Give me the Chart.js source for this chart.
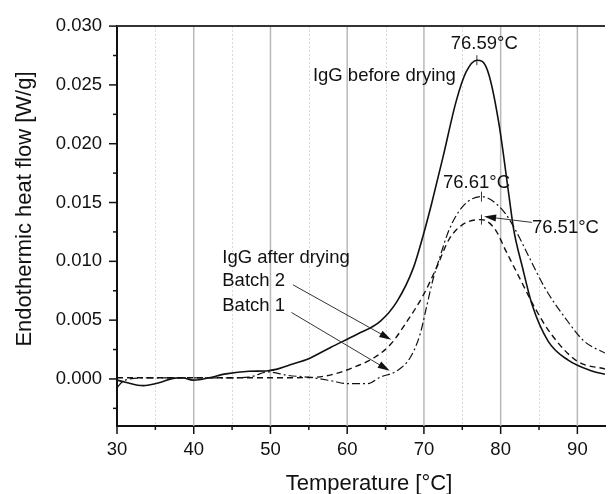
<!DOCTYPE html>
<html>
<head>
  <title>DSC thermogram IgG</title>
  <script src="https://cdn.jsdelivr.net/npm/chart.js@4.4.0/dist/chart.umd.min.js"></script>
  <style>
    body { margin: 0; background: #fff; }
    #wrap { width: 611px; height: 494px; }
  </style>
</head>
<body>
  <div id="wrap"><canvas id="dsc"></canvas></div>
  <script>
    // heat flow [W/g] against temperature [°C]
    var tBefore = [30, 31.1, 33.4, 35.6, 37.3, 38.5, 39.9, 40.7, 42.0, 44.2, 47.2, 49.7, 51.2, 52.8, 54.9, 57.9, 61.3, 64.3, 66.5, 68.6, 69.9, 71.0, 72.5, 74.2, 75.5, 76.9, 77.6, 78.5, 79.8, 81.1, 81.7, 82.8, 84.1, 86.2, 88.8, 91.8, 93.6];
    var vBefore = [-0.0001, -0.00028, -0.00057, -0.0003, 0.00005, 0.0001, -0.0001, -0.00007, 0.0001, 0.00043, 0.00065, 0.0007, 0.0009, 0.00125, 0.0017, 0.0027, 0.0038, 0.0049, 0.0066, 0.0094, 0.0122, 0.0149, 0.0189, 0.0236, 0.0261, 0.0271, 0.0270, 0.0258, 0.0216, 0.0155, 0.0127, 0.0096, 0.0063, 0.0032, 0.0016, 0.0007, 0.0004];

    var tBatch2 = [30, 40, 50, 55, 57.9, 60.9, 63.5, 65.6, 67.8, 69.9, 71.6, 73.3, 75.0, 77.5, 79.3, 80.6, 82.3, 84.5, 86.6, 90.0, 93.6];
    var vBatch2 = [0.0001, 0.0001, 0.0001, 0.00012, 0.00035, 0.001, 0.0018, 0.0029, 0.0049, 0.0071, 0.0094, 0.0119, 0.0131, 0.01355, 0.0127, 0.011, 0.0088, 0.006, 0.0038, 0.0015, 0.00085];

    var tBatch1 = [30, 30.6, 31.7, 35, 40, 45, 47.2, 49.7, 52.3, 54.9, 57.9, 60.0, 62.6, 64.3, 66.5, 68.2, 69.5, 70.3, 71.2, 72.0, 73.3, 75.1, 77.5, 80.2, 81.9, 83.6, 85.8, 88.4, 90.9, 93.6];
    var vBatch1 = [-0.00075, -0.0003, 0.0, 0.0001, 0.0001, 0.0001, 0.00015, 0.0006, 0.0003, 0.00015, -0.00015, -0.0004, -0.0004, 0.00015, 0.0007, 0.0018, 0.0038, 0.006, 0.0085, 0.0102, 0.0127, 0.0147, 0.0155, 0.0144, 0.0127, 0.0105, 0.0077, 0.0052, 0.0032, 0.0022];

    // peak markers: before drying, batch 1, batch 2
    var peakT = [76.9, 77.5, 77.5];
    var peakV = [0.0271, 0.0155, 0.01355];

    var xMajor = [30, 40, 50, 60, 70, 80, 90];
    var xMinor = [35, 45, 55, 65, 75, 85];
    var yMajor = [0, 0.005, 0.010, 0.015, 0.020, 0.025, 0.030];
    var yMinor = [-0.0025, 0.0025, 0.0075, 0.0125, 0.0175, 0.0225, 0.0275];

    function pts(ts, vs) {
      return ts.map(function(t, i) { return { x: t, y: vs[i] }; });
    }

    var FONT = '"Liberation Sans", Arial, sans-serif';
    Chart.defaults.font.family = FONT;
    Chart.defaults.color = '#111';

    // text labels and arrows, placed in data units
    var notes = [
      { text: '76.59°C', x: 77.87, y: 0.02805, align: 'center' },
      { text: 'IgG before drying', x: 55.53, y: 0.02531, align: 'left' },
      { text: '76.61°C', x: 72.49, y: 0.01626, align: 'left' },
      { text: '76.51°C', x: 84.07, y: 0.01241, align: 'left' },
      { text: 'IgG after drying', x: 43.72, y: 0.00984, align: 'left' },
      { text: 'Batch 2', x: 43.72, y: 0.00790, align: 'left' },
      { text: 'Batch 1', x: 43.72, y: 0.00580, align: 'left' }
    ];
    var arrows = [
      { x1: 52.94, y1: 0.00800, x2: 65.74, y2: 0.00334 },
      { x1: 52.74, y1: 0.00565, x2: 65.54, y2: 0.00069 },
      { x1: 84.07, y1: 0.01331, x2: 77.84, y2: 0.01381 }
    ];

    function drawArrow(ctx, x1, y1, x2, y2) {
      var a = Math.atan2(y2 - y1, x2 - x1);
      var len = 12, hw = 3.6;
      ctx.beginPath();
      ctx.moveTo(x1, y1);
      ctx.lineTo(x2 - Math.cos(a) * len * 0.8, y2 - Math.sin(a) * len * 0.8);
      ctx.stroke();
      ctx.beginPath();
      ctx.moveTo(x2, y2);
      ctx.lineTo(x2 - Math.cos(a) * len - Math.sin(a) * hw, y2 - Math.sin(a) * len + Math.cos(a) * hw);
      ctx.lineTo(x2 - Math.cos(a) * len + Math.sin(a) * hw, y2 - Math.sin(a) * len - Math.cos(a) * hw);
      ctx.closePath();
      ctx.fill();
    }

    var decor = {
      id: 'decor',
      beforeDatasetsDraw: function(chart) {
        var ctx = chart.ctx, a = chart.chartArea;
        var xs = chart.scales.x;
        ctx.save();
        // minor grid, dotted
        ctx.strokeStyle = '#d6d6d6';
        ctx.lineWidth = 1;
        ctx.setLineDash([2, 2]);
        xMinor.forEach(function(t) {
          var px = Math.round(xs.getPixelForValue(t)) + 0.5;
          ctx.beginPath(); ctx.moveTo(px, a.top); ctx.lineTo(px, a.bottom); ctx.stroke();
        });
        // major grid
        ctx.setLineDash([]);
        ctx.strokeStyle = '#b8b8b8';
        ctx.lineWidth = 1.5;
        xMajor.slice(1).forEach(function(t) {
          var px = xs.getPixelForValue(t);
          ctx.beginPath(); ctx.moveTo(px, a.top); ctx.lineTo(px, a.bottom); ctx.stroke();
        });
        ctx.restore();
      },
      afterDraw: function(chart) {
        var ctx = chart.ctx, a = chart.chartArea;
        var xs = chart.scales.x, ys = chart.scales.y;
        ctx.save();
        // top frame
        ctx.strokeStyle = '#333';
        ctx.lineWidth = 2;
        ctx.beginPath(); ctx.moveTo(a.left, a.top); ctx.lineTo(a.right, a.top); ctx.stroke();
        // ticks
        ctx.strokeStyle = '#111';
        ctx.lineWidth = 1.5;
        yMajor.forEach(function(v) {
          var py = ys.getPixelForValue(v);
          ctx.beginPath(); ctx.moveTo(a.left - 8, py); ctx.lineTo(a.left, py); ctx.stroke();
        });
        yMinor.forEach(function(v) {
          var py = ys.getPixelForValue(v);
          ctx.beginPath(); ctx.moveTo(a.left - 4, py); ctx.lineTo(a.left, py); ctx.stroke();
        });
        xMajor.forEach(function(t) {
          var px = xs.getPixelForValue(t);
          ctx.beginPath(); ctx.moveTo(px, a.bottom); ctx.lineTo(px, a.bottom + 8); ctx.stroke();
        });
        xMinor.forEach(function(t) {
          var px = xs.getPixelForValue(t);
          ctx.beginPath(); ctx.moveTo(px, a.bottom); ctx.lineTo(px, a.bottom + 4); ctx.stroke();
        });
        // axis titles
        ctx.fillStyle = '#111';
        ctx.font = '22px ' + FONT;
        ctx.textAlign = 'center';
        ctx.textBaseline = 'middle';
        ctx.fillText('Temperature [°C]', 369, 484);
        ctx.save();
        ctx.translate(25, 209);
        ctx.rotate(-Math.PI / 2);
        ctx.fillText('Endothermic heat flow [W/g]', 0, 0);
        ctx.restore();
        // notes
        ctx.font = '18.5px ' + FONT;
        ctx.textBaseline = 'alphabetic';
        notes.forEach(function(n) {
          ctx.textAlign = n.align;
          ctx.fillText(n.text, xs.getPixelForValue(n.x), ys.getPixelForValue(n.y));
        });
        ctx.strokeStyle = '#333';
        ctx.fillStyle = '#111';
        ctx.lineWidth = 1;
        arrows.forEach(function(r) {
          drawArrow(ctx, xs.getPixelForValue(r.x1), ys.getPixelForValue(r.y1),
                    xs.getPixelForValue(r.x2), ys.getPixelForValue(r.y2));
        });
        ctx.restore();
      }
    };

    new Chart(document.getElementById('dsc'), {
      type: 'scatter',
      data: {
        datasets: [{
          label: 'IgG before drying',
          data: pts(tBefore, vBefore),
          showLine: true,
          borderColor: '#111',
          borderWidth: 1.6,
          pointRadius: 0,
          cubicInterpolationMode: 'monotone'
        }, {
          label: 'Batch 2',
          data: pts(tBatch2, vBatch2),
          showLine: true,
          borderColor: '#111',
          borderWidth: 1.4,
          borderDash: [6, 4],
          pointRadius: 0,
          cubicInterpolationMode: 'monotone'
        }, {
          label: 'Batch 1',
          data: pts(tBatch1, vBatch1),
          showLine: true,
          borderColor: '#111',
          borderWidth: 1.2,
          borderDash: [8, 3, 2, 3],
          pointRadius: 0,
          cubicInterpolationMode: 'monotone'
        }, {
          label: 'peaks',
          data: pts(peakT, peakV),
          showLine: false,
          pointStyle: 'line',
          rotation: 90,
          pointRadius: 5,
          borderColor: '#333',
          borderWidth: 1
        }]
      },
      options: {
        responsive: true,
        maintainAspectRatio: false,
        animation: false,
        layout: { padding: { top: 20, right: 0, left: 0, bottom: 0 } },
        plugins: {
          legend: { display: false },
          tooltip: { enabled: false }
        },
        scales: {
          x: {
            type: 'linear',
            min: 30,
            max: 93.6,
            afterBuildTicks: function(s) { s.ticks = xMajor.map(function(v) { return { value: v }; }); },
            afterFit: function(s) { s.height = 68; },
            grid: { display: false, drawTicks: false },
            border: { display: true, color: '#111', width: 2 },
            ticks: { font: { size: 18.5 }, color: '#111', padding: 13, maxRotation: 0 }
          },
          y: {
            min: -0.004,
            max: 0.030,
            afterBuildTicks: function(s) { s.ticks = yMajor.map(function(v) { return { value: v }; }); },
            afterFit: function(s) { s.width = 117; },
            grid: { display: false, drawTicks: false },
            border: { display: true, color: '#111', width: 2 },
            ticks: {
              font: { size: 18.5 }, color: '#111', padding: 15,
              callback: function(v) { return Number(v).toFixed(3); }
            }
          }
        }
      },
      plugins: [decor]
    });
  </script>
</body>
</html>
